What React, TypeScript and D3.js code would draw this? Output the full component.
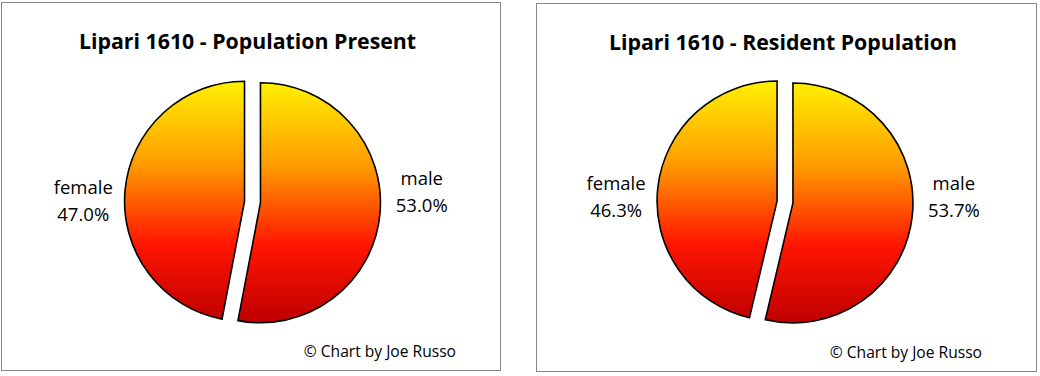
import React from "react";
import * as d3 from "d3";

const categories = ["male", "female"];
const presentValues = [53.0, 47.0];
const residentValues = [53.7, 46.3];
const chartTitles = ["Lipari 1610 - Population Present", "Lipari 1610 - Resident Population"];
const credit = "\u00A9 Chart by Joe Russo";

const FONT = "'Open Sans', sans-serif";

type PanelProps = {
  x0: number; y0: number; w: number; h: number;
  title: string; values: number[]; id: string;
  labelDy: number[]; creditInset: number; cxShift: number;
};

function Panel({ x0, y0, w, h, title, values, id, labelDy, creditInset, cxShift }: PanelProps) {
  const cx = x0 + w / 2 + cxShift;
  const cy = 202;
  const r = 120;
  const explode = 8;
  const data = categories.map((c, i) => ({ cat: c, value: values[i] }));
  const pie = d3.pie<any>().value((d: any) => d.value).sort(null).startAngle(0).endAngle(2 * Math.PI);
  const arcs = pie(data);
  const arc = d3.arc<any>().innerRadius(0).outerRadius(r);
  const labelArc = d3.arc<any>().innerRadius(170).outerRadius(170);
  const fmt = d3.format(".1f");
  return (
    <g>
      <defs>
        <linearGradient id={id} gradientUnits="userSpaceOnUse" x1={0} y1={-r} x2={0} y2={r}>
          <stop offset="0%" stopColor="#FFF000" />
          <stop offset="35%" stopColor="#FF9A00" />
          <stop offset="68%" stopColor="#FF1500" />
          <stop offset="100%" stopColor="#BE0000" />
        </linearGradient>
      </defs>
      <rect x={x0 + 0.5} y={y0 + 0.5} width={w} height={h} fill="#fff" stroke="#888" strokeWidth={1} />
      <text x={x0 + w / 2 - 3} y={y0 + 47} textAnchor="middle" fontFamily={FONT} fontWeight="bold" fontSize={21.3} fill="#000">
        {title}
      </text>
      {arcs.map((a, i) => {
        const mid = (a.startAngle + a.endAngle) / 2;
        const dx = Math.sin(mid) * explode;
        const dy = -Math.cos(mid) * explode;
        return (
          <path key={i} d={arc(a) as string} transform={`translate(${cx + dx},${cy + dy})`}
            fill={`url(#${id})`} stroke="#000" strokeWidth={1.6} strokeLinejoin="miter" />
        );
      })}
      {arcs.map((a, i) => {
        const [lx] = labelArc.centroid(a);
        const by = cy + labelDy[i];
        return (
          <text key={"l" + i} x={cx + lx} y={by} textAnchor="middle" fontFamily={FONT} fontSize={18.5} fill="#000">
            <tspan x={cx + lx}>{a.data.cat}</tspan>
            <tspan x={cx + lx} dy={27}>{fmt(a.data.value) + "%"}</tspan>
          </text>
        );
      })}
      <text x={x0 + w - creditInset} y={y0 + h - 13} textAnchor="end" fontFamily={FONT} fontSize={15.6} fill="#000">
        {credit}
      </text>
    </g>
  );
}

export default function App() {
  return (
    <svg width={1040} height={376} style={{ position: "absolute", left: 0, top: 0, background: "#fff" }}>
      <rect x={0} y={0} width={1040} height={376} fill="#fff" />
      <Panel x0={1} y0={2} w={499} h={368} title={chartTitles[0]} values={presentValues} id="g1"
        labelDy={[-17, -8]} creditInset={44} cxShift={2} />
      <Panel x0={536} y0={3} w={500} h={368} title={chartTitles[1]} values={residentValues} id="g2"
        labelDy={[-12, -12]} creditInset={54} cxShift={-1} />
    </svg>
  );
}
